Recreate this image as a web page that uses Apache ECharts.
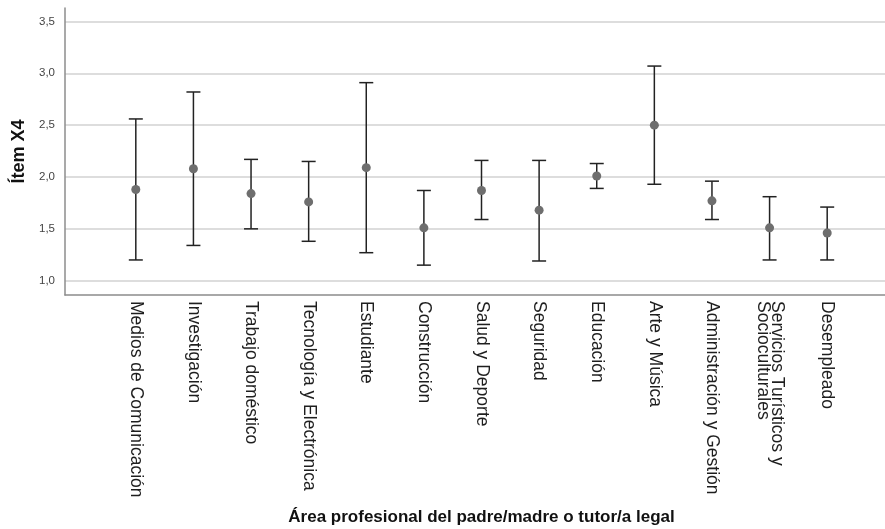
<!DOCTYPE html>
<html>
<head>
<meta charset="utf-8">
<script src="https://cdn.jsdelivr.net/npm/echarts@6/dist/echarts.min.js"></script>
<style>html,body{margin:0;padding:0;background:#fff;}#c{width:885px;height:529px;}</style>
</head>
<body>
<div id="c"></div>
<script>
var categories = ['Medios de Comunicación','Investigación','Trabajo doméstico','Tecnología y Electrónica','Estudiante','Construcción','Salud y Deporte','Seguridad','Educación','Arte y Música','Administración y Gestión','Servicios Turísticos y\nSocioculturales','Desempleado'];
var means = [1.88, 2.08, 1.84, 1.76, 2.09, 1.51, 1.87, 1.68, 2.01, 2.50, 1.77, 1.51, 1.46];
var lower = [1.20, 1.34, 1.50, 1.38, 1.27, 1.15, 1.59, 1.19, 1.89, 1.93, 1.59, 1.20, 1.20];
var upper = [2.56, 2.82, 2.17, 2.15, 2.91, 1.87, 2.16, 2.16, 2.13, 3.07, 1.96, 1.81, 1.71];
var yTicks = [1.0, 1.5, 2.0, 2.5, 3.0, 3.5];

var Y_MIN = 0.862, Y_MAX = 3.63;
var FONT = '"Liberation Sans", Arial, sans-serif';

var errData = categories.map(function (c, i) { return [i, lower[i], upper[i]]; });

var chart = echarts.init(document.getElementById('c'), null, {renderer: 'canvas'});
chart.setOption({
  animation: false,
  backgroundColor: '#fff',
  grid: [
    {left: 65, right: 0, top: 8, bottom: 234, containLabel: false, outerBoundsMode: 'none'},
    {left: 107, right: 29, top: 8, bottom: 234, containLabel: false, outerBoundsMode: 'none'}
  ],
  xAxis: [
    {
      gridIndex: 0, type: 'value', min: 0, max: 1,
      axisLine: {show: true, onZero: false, lineStyle: {color: '#8c8c8c', width: 1.5}},
      axisTick: {show: false}, axisLabel: {show: false}, splitLine: {show: false}
    },
    {
      gridIndex: 1, type: 'category', data: categories, boundaryGap: true,
      axisLine: {show: false}, axisTick: {show: false},
      axisLabel: {
        interval: 0, rotate: -90, margin: 6, fontSize: 17.5, color: '#1e1e1e',
        fontFamily: FONT, lineHeight: 14, padding: [10, 0, 0, 0]
      },
      name: 'Área profesional del padre/madre o tutor/a legal',
      nameLocation: 'middle', nameGap: 214,
      nameTextStyle: {fontSize: 17, fontWeight: 'bold', color: '#111', fontFamily: FONT}
    }
  ],
  yAxis: [
    {
      gridIndex: 0, type: 'value', min: Y_MIN, max: Y_MAX,
      axisLine: {show: true, lineStyle: {color: '#8c8c8c', width: 1.5}},
      axisTick: {show: false, customValues: yTicks},
      axisLabel: {
        customValues: yTicks, margin: 10, fontSize: 11.5, color: '#444', fontFamily: FONT,
        formatter: function (v) { return v.toFixed(1).replace('.', ','); }
      },
      splitLine: {show: true, lineStyle: {color: '#d2d2d2', width: 1.5}},
      name: 'Ítem X4', nameLocation: 'middle', nameGap: 37, nameRotate: 90,
      nameTextStyle: {fontSize: 18, fontWeight: 'bold', color: '#111', fontFamily: FONT}
    },
    {
      gridIndex: 1, type: 'value', min: Y_MIN, max: Y_MAX,
      axisLine: {show: false}, axisTick: {show: false}, axisLabel: {show: false},
      splitLine: {show: false}
    }
  ],
  series: [
    {
      type: 'custom', xAxisIndex: 1, yAxisIndex: 1, data: errData,
      encode: {x: 0, y: [1, 2]},
      renderItem: function (params, api) {
        var x = api.value(0);
        var lo = api.coord([x, api.value(1)]);
        var hi = api.coord([x, api.value(2)]);
        var hw = 7;
        var st = {stroke: '#222', lineWidth: 1.5};
        return {
          type: 'group',
          children: [
            {type: 'line', shape: {x1: lo[0], y1: lo[1], x2: hi[0], y2: hi[1]}, style: st},
            {type: 'line', shape: {x1: hi[0] - hw, y1: hi[1], x2: hi[0] + hw, y2: hi[1]}, style: st},
            {type: 'line', shape: {x1: lo[0] - hw, y1: lo[1], x2: lo[0] + hw, y2: lo[1]}, style: st}
          ]
        };
      },
      z: 2
    },
    {
      type: 'scatter', xAxisIndex: 1, yAxisIndex: 1, data: means,
      symbol: 'circle', symbolSize: 9,
      itemStyle: {color: '#6e6e6e', opacity: 1},
      z: 3
    }
  ]
});
</script>
</body>
</html>
